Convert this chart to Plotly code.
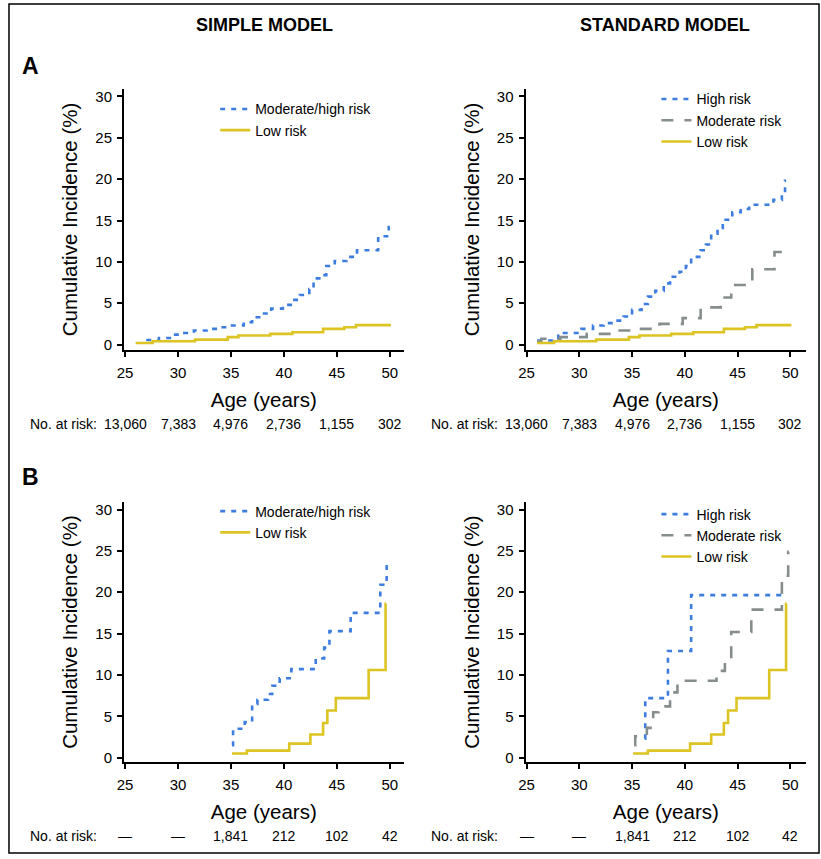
import plotly.graph_objects as go
from plotly.subplots import make_subplots

W, H = 821, 859
FONT = "Liberation Sans, Arial, Helvetica, sans-serif"

BLUE = "#3d7de0"
GRAY = "#858d8d"
YELLOW = "#dcc422"

AGE_TICKS = [25, 30, 35, 40, 45, 50]
CI_TICKS = [0, 5, 10, 15, 20, 25, 30]

# Panel A, simple model
A_SIMPLE_MODHIGH_AGE = [27.0, 28.2, 29.5, 30.6, 31.5, 32.7, 33.8, 35.1, 36.2, 37.0, 38.0, 38.8, 39.9,
                        40.8, 41.5, 42.4, 42.8, 43.7, 44.0, 44.8, 45.9, 46.9, 48.9, 49.9, 50.0]
A_SIMPLE_MODHIGH_CI = [0.55, 0.8, 1.2, 1.4, 1.7, 1.9, 2.1, 2.3, 2.7, 3.3, 3.75, 4.35, 4.8,
                       5.4, 6.0, 6.7, 8.0, 8.4, 9.5, 10.1, 10.6, 11.4, 13.1, 14.2, 14.2]

# Panel A, low risk (same group in both models)
A_LOW_AGE = [26.0, 27.6, 31.6, 34.7, 35.7, 38.7, 40.8, 43.7, 45.7, 46.8, 50.1]
A_LOW_CI = [0.2, 0.4, 0.6, 0.9, 1.1, 1.3, 1.5, 1.9, 2.1, 2.35, 2.35]

# Panel A, standard model
A_STD_HIGH_AGE = [26.0, 28.0, 30.2, 31.3, 32.3, 33.4, 34.2, 35.0, 35.9, 36.5, 37.2, 38.0, 38.6, 39.5,
                  40.1, 40.6, 41.5, 42.0, 42.5, 43.1, 43.6, 44.5, 45.3, 46.1, 48.4, 49.2, 49.5, 49.6]
A_STD_HIGH_CI = [0.5, 1.4, 1.9, 2.3, 2.6, 2.9, 3.4, 4.2, 4.9, 5.8, 6.5, 7.4, 8.2, 8.8,
                 9.5, 10.6, 11.4, 12.1, 13.4, 14.1, 15.1, 16.0, 16.4, 16.9, 17.5, 18.1, 19.8, 19.8]
A_STD_MOD_AGE = [26.0, 26.4, 28.2, 30.7, 33.1, 35.4, 37.6, 39.8, 41.5, 43.4, 44.4, 46.4, 48.5, 49.4, 49.6]
A_STD_MOD_CI = [0.4, 0.7, 0.9, 1.3, 1.7, 1.9, 2.5, 3.2, 4.5, 5.7, 7.2, 9.1, 11.2, 12.0, 12.0]

# Panel B
B_SIMPLE_MODHIGH_AGE = [35.1, 35.2, 36.3, 37.0, 37.5, 38.5, 38.9, 39.6, 40.7, 43.0, 43.8, 44.3, 46.3, 49.1, 49.7, 49.75]
B_SIMPLE_MODHIGH_CI = [1.5, 3.5, 4.3, 6.5, 7.0, 7.7, 8.7, 9.6, 10.7, 12.0, 13.3, 15.3, 17.5, 20.9, 23.9, 23.9]

B_LOW_AGE = [35.1, 36.5, 40.5, 42.5, 43.7, 44.1, 44.9, 48.0, 49.6, 49.65]
B_LOW_CI = [0.5, 0.85, 1.7, 2.8, 4.2, 5.7, 7.2, 10.6, 18.6, 18.6]

B_STD_HIGH_AGE = [36.2, 36.25, 38.4, 40.6, 49.7]
B_STD_HIGH_CI = [2.3, 7.2, 12.9, 19.65, 19.65]
B_STD_MOD_AGE = [35.2, 35.3, 36.4, 37.0, 37.5, 38.6, 39.3, 43.0, 43.8, 44.4, 46.3, 49.2, 49.8, 49.85]
B_STD_MOD_CI = [1.5, 2.6, 3.6, 5.5, 6.2, 7.9, 9.3, 10.5, 11.5, 15.2, 17.9, 22.0, 24.9, 24.9]

AT_RISK_A = ["13,060", "7,383", "4,976", "2,736", "1,155", "302"]
AT_RISK_B = ["\u2014", "\u2014", "1,841", "212", "102", "42"]


def xdom(left, right):
    return [left / W, right / W]


def ydom(top, bottom):
    return [1 - bottom / H, 1 - top / H]


def step_trace(ages, values, name, color, dash, legend):
    return go.Scatter(
        x=ages,
        y=values,
        mode="lines",
        line={"shape": "hv", "color": color, "width": 2.6, "dash": dash},
        name=name,
        legend=legend,
        hoverinfo="skip",
    )


fig = make_subplots(rows=2, cols=2)

panels = [
    (1, 1, "legend", [
        (A_SIMPLE_MODHIGH_AGE, A_SIMPLE_MODHIGH_CI, "Moderate/high risk", BLUE, "5px,6px"),
        (A_LOW_AGE, A_LOW_CI, "Low risk", YELLOW, "solid"),
    ]),
    (1, 2, "legend2", [
        (A_STD_HIGH_AGE, A_STD_HIGH_CI, "High risk", BLUE, "5px,6px"),
        (A_STD_MOD_AGE, A_STD_MOD_CI, "Moderate risk", GRAY, "12px,11px"),
        (A_LOW_AGE, A_LOW_CI, "Low risk", YELLOW, "solid"),
    ]),
    (2, 1, "legend3", [
        (B_SIMPLE_MODHIGH_AGE, B_SIMPLE_MODHIGH_CI, "Moderate/high risk", BLUE, "5px,6px"),
        (B_LOW_AGE, B_LOW_CI, "Low risk", YELLOW, "solid"),
    ]),
    (2, 2, "legend4", [
        (B_STD_HIGH_AGE, B_STD_HIGH_CI, "High risk", BLUE, "5px,6px"),
        (B_STD_MOD_AGE, B_STD_MOD_CI, "Moderate risk", GRAY, "12px,11px"),
        (B_LOW_AGE, B_LOW_CI, "Low risk", YELLOW, "solid"),
    ]),
]

for row, col, legend, series in panels:
    for ages, values, name, color, dash in series:
        fig.add_trace(step_trace(ages, values, name, color, dash, legend), row=row, col=col)

x_domains = {1: xdom(118, 400), 2: xdom(523, 806)}
y_domains = {1: ydom(88, 350), 2: ydom(504, 765)}
x_ranges = {1: [24.9, 51.3], 2: [24.9, 51.5]}
y_ranges = {1: [-0.6, 30.85], 2: [-0.48, 30.85]}

for row in (1, 2):
    for col in (1, 2):
        fig.update_xaxes(
            domain=x_domains[col], range=x_ranges[col], tickvals=AGE_TICKS,
            showline=True, linecolor="black", linewidth=2, showgrid=False, zeroline=False,
            ticks="outside", ticklen=5, tickwidth=1.5, tickcolor="black",
            tickfont={"size": 15, "color": "black"}, ticklabelstandoff=3,
            title={"text": "Age (years)", "font": {"size": 20.5, "color": "black"}, "standoff": 13},
            row=row, col=col,
        )
        fig.update_yaxes(
            domain=y_domains[row], range=y_ranges[row], tickvals=CI_TICKS,
            showline=True, linecolor="black", linewidth=2, showgrid=False, zeroline=False,
            ticks="outside", ticklen=5, tickwidth=1.5, tickcolor="black",
            tickfont={"size": 15, "color": "black"}, ticklabelstandoff=2,
            title={"text": "Cumulative Incidence (%)", "font": {"size": 20.5, "color": "black"}, "standoff": 12},
            row=row, col=col,
        )

legend_style = {
    "xanchor": "left", "yanchor": "top", "bgcolor": "rgba(0,0,0,0)",
    "font": {"size": 14, "color": "black"}, "traceorder": "normal", "itemwidth": 30,
}

annotations = [
    {"text": "<b>SIMPLE MODEL</b>", "x": 260 / W, "y": 1 - 23 / H, "font": {"size": 18}},
    {"text": "<b>STANDARD MODEL</b>", "x": 664 / W, "y": 1 - 23 / H, "font": {"size": 18}},
    {"text": "<b>A</b>", "x": 24 / W, "y": 1 - 64 / H, "font": {"size": 23}},
    {"text": "<b>B</b>", "x": 24 / W, "y": 1 - 478 / H, "font": {"size": 23}},
]
for ann in annotations:
    ann.update({"xref": "paper", "yref": "paper", "showarrow": False,
                "xanchor": "center", "yanchor": "middle"})
    ann["font"]["color"] = "black"

risk_rows = [(425, AT_RISK_A, ("x", "x2")), (840, AT_RISK_B, ("x3", "x4"))]
for ypix, counts, xrefs in risk_rows:
    for xref, label_x in zip(xrefs, (21, 426)):
        annotations.append({
            "text": "No. at risk:", "xref": "paper", "yref": "paper",
            "x": label_x / W, "y": 1 - ypix / H, "xanchor": "left", "yanchor": "middle",
            "showarrow": False, "font": {"size": 14, "color": "black"},
        })
        for age, count in zip(AGE_TICKS, counts):
            annotations.append({
                "text": count, "xref": xref, "yref": "paper",
                "x": age, "y": 1 - ypix / H, "xanchor": "center", "yanchor": "middle",
                "showarrow": False, "font": {"size": 14, "color": "black"},
            })

fig.update_layout(
    width=W,
    height=H,
    margin={"l": 0, "r": 0, "t": 0, "b": 0},
    paper_bgcolor="white",
    plot_bgcolor="white",
    font={"family": FONT, "color": "black"},
    showlegend=True,
    legend={**legend_style, "x": 210 / W, "y": 1 - 92 / H},
    legend2={**legend_style, "x": 655 / W, "y": 1 - 82 / H},
    legend3={**legend_style, "x": 210 / W, "y": 1 - 497 / H},
    legend4={**legend_style, "x": 655 / W, "y": 1 - 500 / H},
    annotations=annotations,
    shapes=[{
        "type": "rect", "xref": "paper", "yref": "paper",
        "x0": 2 / W, "x1": 819 / W, "y0": 1 - 857 / H, "y1": 1 - 2 / H,
        "line": {"color": "black", "width": 1.5},
    }],
)

# drop the default 8px page margin so the figure sits at the window origin
fig.write_html(
    "out.html",
    config={"displayModeBar": False},
    post_script="document.body.style.margin='0px';",
)
